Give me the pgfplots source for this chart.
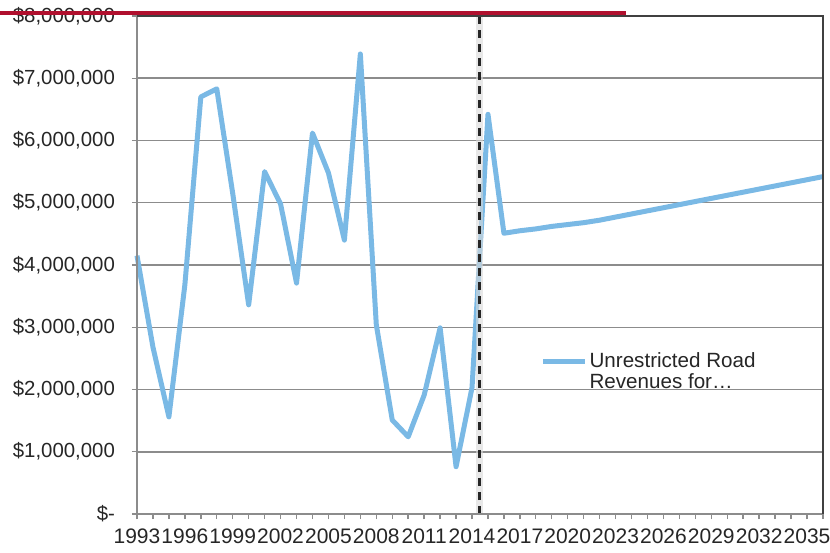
\documentclass[border=0pt]{standalone}
\usepackage{fontspec}
\setmainfont{Liberation Sans}
\usepackage{pgfplots}
\pgfplotsset{compat=1.18}

\definecolor{roadblue}{RGB}{122,185,229}
\definecolor{gridgray}{RGB}{140,140,140}
\definecolor{labelgray}{RGB}{38,38,38}
\definecolor{banner}{RGB}{176,16,46}

% unrestricted road revenues, dollars per year
\pgfplotstableread{
year  rev
1993  4150000
1994  2680000
1995  1560000
1996  3680000
1997  6700000
1998  6830000
1999  5150000
2000  3360000
2001  5500000
2002  4980000
2003  3710000
2004  6120000
2005  5480000
2006  4400000
2007  7390000
2008  3040000
2009  1510000
2010  1240000
2011  1910000
2012  2990000
2013  760000
2014  2030000
2015  6420000
2016  4510000
2017  4550000
2018  4580000
2019  4620000
2020  4650000
2021  4680000
2022  4720000
2023  4770000
2024  4820000
2025  4870000
2026  4920000
2027  4970000
2028  5020000
2029  5070000
2030  5120000
2031  5170000
2032  5220000
2033  5270000
2034  5320000
2035  5370000
2036  5420000
}\revtable

\begin{document}
\begin{tikzpicture}
\begin{axis}[
    scale only axis,
    width=343pt, height=249pt,
    xmin=1993, xmax=2036,
    ymin=0, ymax=8000000,
    clip=false,
    axis line style={draw=none},
    scaled y ticks=false,
    xtick={1993,1996,1999,2002,2005,2008,2011,2014,2017,2020,2023,2026,2029,2032,2035},
    xticklabels={1993,1996,1999,2002,2005,2008,2011,2014,2017,2020,2023,2026,2029,2032,2035},
    minor xtick={1993,1994,...,2036},
    ytick={0,1000000,2000000,3000000,4000000,5000000,6000000,7000000,8000000},
    yticklabels={{\$-},{\$1,000,000},{\$2,000,000},{\$3,000,000},{\$4,000,000},
                 {\$5,000,000},{\$6,000,000},{\$7,000,000},{\$8,000,000}},
    xtick pos=lower, ytick pos=left,
    tick align=outside,
    major tick length=2.5pt, minor tick length=2.5pt,
    every tick/.style={gridgray, line width=0.7pt},
    minor tick style={gridgray, line width=0.7pt},
    ymajorgrids,
    grid style={gridgray, line width=0.75pt},
    xticklabel style={font=\fontsize{10.5}{12}\selectfont, text=labelgray, yshift=-1.2pt},
    yticklabel style={font=\fontsize{10.2}{12}\selectfont, text=labelgray, xshift=-5pt},
    legend style={at={(0.579,0.285)}, anchor=west, draw=none, fill=none,
                  font=\fontsize{10.3}{10.5}\selectfont, text=labelgray,
                  nodes={align=left, inner sep=1pt}},
    legend cell align=left,
    legend image code/.code={\draw[#1] (0pt,5.25pt) -- (21pt,5.25pt);},
]
\addplot[roadblue, line width=2.5pt, line join=round] table[x=year, y=rev] {\revtable};
\addlegendentry{Unrestricted Road\\Revenues for…}

% divider between actual and forecast years
\addplot[gray!30, line width=3.5pt, opacity=0.6, forget plot]
    coordinates {(2014.5,0) (2014.5,8000000)};
\addplot[black!85, line width=1.5pt, dash pattern=on 4pt off 3pt, forget plot]
    coordinates {(2014.5,0) (2014.5,8000000)};

\draw[gridgray, line width=0.9pt] (rel axis cs:0,1) -- (rel axis cs:0,0) -- (rel axis cs:1,0);
\draw[black!75, line width=0.6pt] (rel axis cs:0,1) -- (rel axis cs:1,1) -- (rel axis cs:1,0);
\end{axis}
\draw[banner, line width=2pt] (-68.5pt,250.5pt) -- (244.5pt,250.5pt);
\pgfresetboundingbox
\path[use as bounding box] (-68.5pt,-19pt) rectangle (346.5pt,257pt);
\end{tikzpicture}
\end{document}
